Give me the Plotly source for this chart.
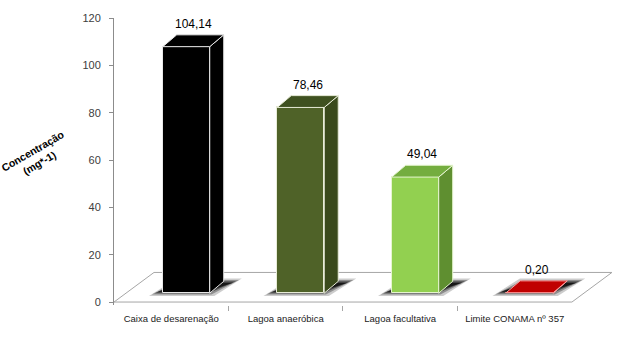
import plotly.graph_objects as go

categories = ["Caixa de desarenação", "Lagoa anaeróbica", "Lagoa facultativa", "Limite CONAMA nº 357"]
values = [104.14, 78.46, 49.04, 0.20]
front_colors = ["#000000", "#4f6228", "#92d050", "#c00000"]
side_colors = ["#000000", "#3a4a1c", "#5f8f30", "#8a0000"]
top_colors = ["#000000", "#3f5120", "#74ad3f", "#c00000"]
edge_colors = ["#e8e8e8", "#e8ecd8", "#e6f5d0", "#ff9f9f"]
y_ticks = [0, 20, 40, 60, 80, 100, 120]

# geometry (in data units)
X0, X1 = -0.5, 3.85
Y0, Y1 = -1.25, 120
PXX = 498 / (X1 - X0)
PXY = 291 / (Y1 - Y0)
BASE = 9 / PXY          # bars sit slightly behind the front edge
OFF = 15 / PXX          # horizontal offset of bar front from category centre
BW = 47 / PXX           # bar width
DX = 14 / PXX           # bar depth (x)
DY = 12 / PXY           # bar depth (y)
FX = 40 / PXX           # floor depth (x)
FY = 30 / PXY           # floor depth (y)
n = len(categories)
xs = list(range(n))

fig = go.Figure()

shapes = []
# floor
floor_col = "#a6a6a6"
def line(xa, ya, xb, yb):
    shapes.append(dict(type="line", xref="x", yref="y", x0=xa, y0=ya, x1=xb, y1=yb,
                       line=dict(color=floor_col, width=1), layer="below"))
line(-0.5, 0, n - 0.5, 0)
line(-0.5, 0, -0.5 + FX, FY)
line(-0.5 + FX, FY, n - 0.5 + FX, FY)
line(n - 0.5, 0, n - 0.5 + FX, FY)

# shadows on the floor
for i, v in enumerate(values):
    xl = xs[i] + OFF - BW / 2
    xr = xs[i] + OFF + BW / 2
    for k, a in enumerate([0.2, 0.3, 0.45, 0.7]):
        ins = k * 0.025
        insy = k * 0.6
        path = (f"M {xl - 0.12 + ins},{BASE - 1.2 + insy} L {xr + 0.04 - ins},{BASE - 1.2 + insy} "
                f"L {xr + 0.28 - ins},{BASE + 6.2 - insy} L {xl + 0.12 + ins},{BASE + 6.2 - insy} Z")
        shapes.append(dict(type="path", xref="x", yref="y", path=path,
                           fillcolor=f"rgba(0,0,0,{a})", line=dict(width=0), layer="below"))

# front faces
fig.add_trace(go.Bar(
    x=[x + OFF for x in xs], y=values, base=BASE, width=BW,
    marker=dict(color=front_colors, line=dict(color=edge_colors, width=1)),
    showlegend=False, hoverinfo="skip"))

# side and top faces
for i, v in enumerate(values):
    xl = xs[i] + OFF - BW / 2
    xr = xs[i] + OFF + BW / 2
    top = BASE + v
    fig.add_trace(go.Scatter(
        x=[xr, xr + DX, xr + DX, xr, xr], y=[BASE, BASE + DY, top + DY, top, BASE],
        mode="lines", fill="toself", fillcolor=side_colors[i],
        line=dict(color=edge_colors[i], width=1), showlegend=False, hoverinfo="skip"))
    fig.add_trace(go.Scatter(
        x=[xl, xr, xr + DX, xl + DX, xl], y=[top, top, top + DY, top + DY, top],
        mode="lines", fill="toself", fillcolor=top_colors[i],
        line=dict(color=edge_colors[i], width=1), showlegend=False, hoverinfo="skip"))

annotations = []
for i, v in enumerate(values):
    annotations.append(dict(
        x=xs[i] + OFF + DX / 2, y=BASE + v + DY, xref="x", yref="y",
        text=f"{v:.2f}".replace(".", ","), showarrow=False, yanchor="bottom", yshift=2,
        font=dict(size=12, color="#000000", family="Liberation Sans")))

annotations.append(dict(
    text="<b>Concentração<br>(mg*-1)</b>", xref="paper", yref="paper",
    x=(36 - 114) / 498, y=(305 - 155) / 291, xanchor="center", yanchor="middle",
    textangle=-30, showarrow=False,
    font=dict(size=10.5, color="#000000", family="Liberation Sans")))

fig.update_layout(
    width=632, height=351,
    margin=dict(l=114, r=20, t=14, b=46),
    paper_bgcolor="white", plot_bgcolor="white",
    shapes=shapes, annotations=annotations,
    xaxis=dict(range=[X0, X1], tickvals=xs, ticktext=categories, ticks="",
               showline=False, showgrid=False, zeroline=False,
               tickfont=dict(size=9.5, color="#222222", family="Liberation Sans"),
               ticklabelstandoff=6,
               minor=dict(tickvals=[0.5, 1.5, 2.5], ticks="outside", ticklen=5,
                          tickcolor=floor_col, tickwidth=1)),
    yaxis=dict(range=[Y0, Y1], tickvals=y_ticks, ticks="outside", ticklen=4,
               tickcolor="#8c8c8c", showline=True, linecolor="#8c8c8c", linewidth=1,
               showgrid=False, zeroline=False, ticklabelstandoff=6,
               tickfont=dict(size=11, color="#404040", family="Liberation Sans")),
    bargap=0,
)

fig.write_html("out.html")
